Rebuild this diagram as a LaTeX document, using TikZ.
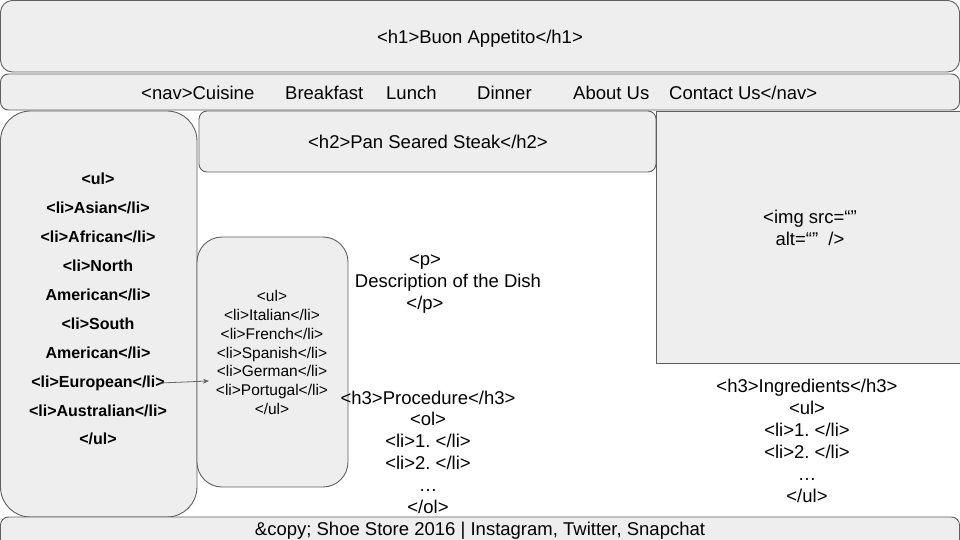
\documentclass[tikz,border=0pt]{standalone}
\usepackage{fontspec}
\setmainfont{Liberation Sans}
\usetikzlibrary{arrows.meta}
\frenchspacing
\definecolor{boxfill}{HTML}{EEEEEE}
\definecolor{boxline}{HTML}{5F5F5F}
\definecolor{arrowcol}{HTML}{666666}
\tikzset{
  panel/.style={draw=boxline, fill=boxfill, line width=0.9pt},
  big/.style={font=\fontsize{18.5}{22}\selectfont, inner sep=0pt, align=center},
  bigline/.style={font=\fontsize{18.5}{22}\selectfont, inner sep=0pt, anchor=base},
  side/.style={font=\fontsize{16}{19}\selectfont\bfseries, inner sep=0pt, anchor=base},
  sub/.style={font=\fontsize{15.5}{18.8}\selectfont, inner sep=0pt, align=center},
  link/.style={draw=arrowcol, line width=0.8pt, -{Stealth[length=6pt,width=5pt]}}
}
\begin{document}
\begin{tikzpicture}[x=1pt,y=-1pt]
\useasboundingbox (0,0) rectangle (960,540);
\clip (0,0) rectangle (960,540);
% panels
\draw[panel, rounded corners=12pt] (0.5,0.5) rectangle (959.5,72);
\draw[panel, rounded corners=8pt] (0.5,74) rectangle (959.5,110);
\draw[panel, rounded corners=30pt] (0.5,111) rectangle (197,517);
\draw[panel, rounded corners=8pt] (199,111) rectangle (656,172);
\draw[panel] (656,111) rectangle (962,363);
\draw[panel, rounded corners=25pt] (197,237) rectangle (348,487);
\draw[panel, rounded corners=8pt] (0.5,517) rectangle (959.5,560);
% headings
\node[bigline] (h1) at (480,43.6) {<h1>Buon Appetito</h1>};
\node[bigline] (h2) at (428,148.6) {<h2>Pan Seared Steak</h2>};
% nav
\node[bigline, anchor=base west] (n1) at (141,99.6) {<nav>Cuisine};
\node[bigline, anchor=base west] (n2) at (285,99.6) {Breakfast};
\node[bigline, anchor=base west] (n3) at (386,99.6) {Lunch};
\node[bigline, anchor=base west] (n4) at (477,99.6) {Dinner};
\node[bigline, anchor=base west] (n5) at (573,99.6) {About Us};
\node[bigline, anchor=base west] (n6) at (669,99.6) {Contact Us</nav>};
% sidebar
\node[side] (s1) at (98,184.8) {<ul>};
\node[side] (s2) at (98,213.8) {<li>Asian</li>};
\node[side] (s3) at (98,242.8) {<li>African</li>};
\node[side] (s4) at (98,271.8) {<li>North};
\node[side] (s5) at (98,300.8) {American</li>};
\node[side] (s6) at (98,329.8) {<li>South};
\node[side] (s7) at (98,358.8) {American</li>};
\node[side] (s8) at (98,387.8) {<li>European</li>};
\node[side] (s9) at (98,416.8) {<li>Australian</li>};
\node[side] (s10) at (98,444.8) {</ul>};
% submenu
\node[sub] (sub) at (272,352.5) {<ul>\\<li>Italian</li>\\<li>French</li>\\<li>Spanish</li>\\<li>German</li>\\<li>Portugal</li>\\</ul>};
% connector
\coordinate (aStart) at (160,383);
\coordinate (aEnd) at (209,381);
\draw[link] (aStart) -- (aEnd);
% paragraph
\node[bigline] (p1) at (425,265.6) {<p>};
\node[bigline] (p2) at (448,287.6) {Description of the Dish};
\node[bigline] (p3) at (425,309.6) {</p>};
% procedure
\node[big, font=\fontsize{18.5}{21.8}\selectfont] (proc) at (428,452) {<h3>Procedure</h3>\\<ol>\\<li>1. </li>\\<li>2. </li>\\…\\</ol>};
% image
\node[big] (img) at (810,227.5) {<img src=“”\\alt=“”\ \ />};
% ingredients
\node[big] (ingr) at (807,440.5) {<h3>Ingredients</h3>\\<ul>\\<li>1. </li>\\<li>2. </li>\\…\\</ul>};
% footer
\node[bigline] (foot) at (480,535.6) {\&copy; Shoe Store 2016 | Instagram, Twitter, Snapchat};
\end{tikzpicture}
\end{document}
